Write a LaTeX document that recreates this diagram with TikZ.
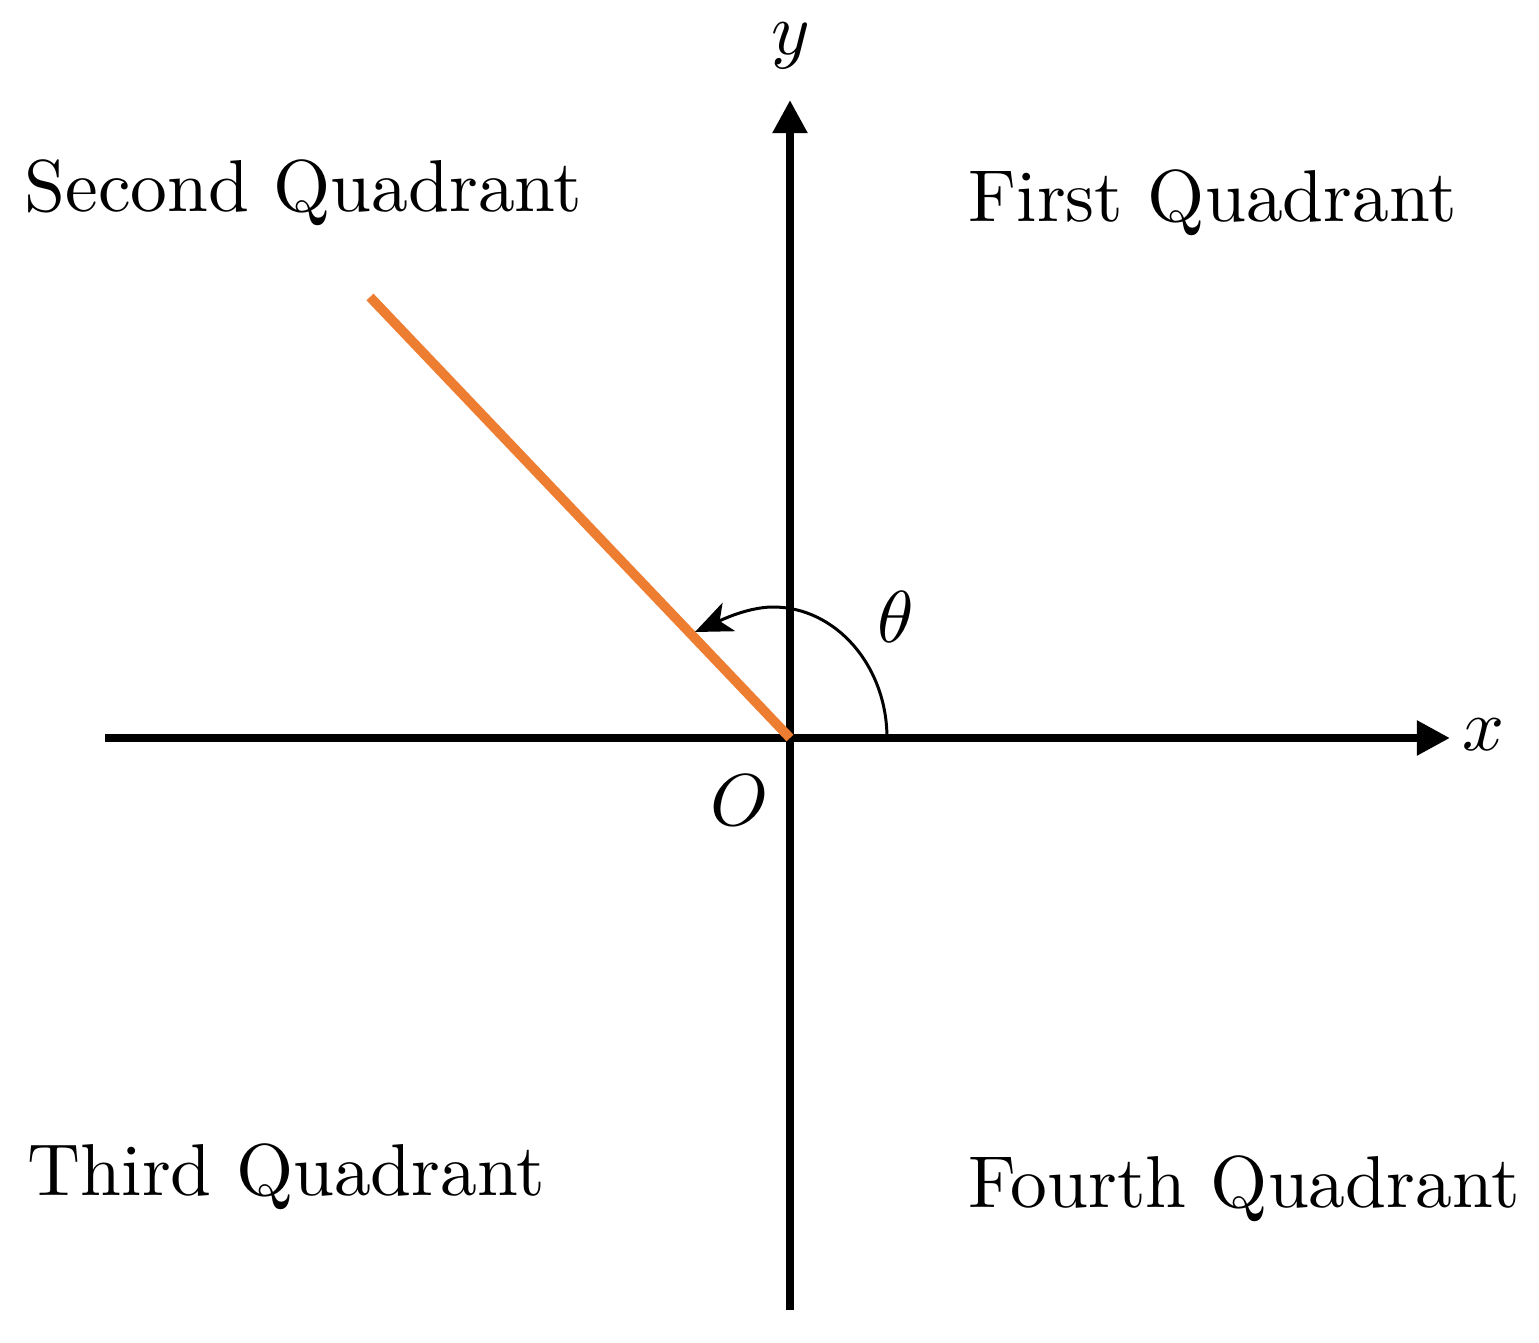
\documentclass[tikz,border=0pt]{standalone}
\usetikzlibrary{arrows.meta}
\definecolor{lineorange}{HTML}{ED7D31}
\newcommand{\bigtxt}[1]{\scalebox{2.09}{#1}}
\begin{document}
\begin{tikzpicture}[x=0.01cm,y=0.01cm,
  axisline/.style={line width=2.28pt,-{Triangle[length=0.33cm,width=0.33cm]}},
  rayline/.style={line width=2.75pt,lineorange},
  anglearc/.style={line width=0.85pt,-{Stealth[length=0.37cm,width=0.31cm,inset=0.1cm]}},
  lbl/.style={font=\fontsize{10}{12}\selectfont,inner sep=0pt},
  quad/.style={lbl,anchor=base west}]
\useasboundingbox (-790,-604) rectangle (749,738);
\coordinate (O) at (0,0);
\coordinate (xs) at (-685,0);
\coordinate (xe) at (660,0);
\coordinate (ys) at (0,-572);
\coordinate (ye) at (0,638);
\coordinate (R) at (-420,441);
\coordinate (a0) at (97,0);
\coordinate (a1) at (-17,131);
\coordinate (a2) at (-95,106);
\draw[axisline] (xs) -- (xe);
\draw[axisline] (ys) -- (ye);
\draw[rayline] (O) -- (R);
\draw[anglearc] (a0) .. controls (97,72) and (46,131) .. (a1)
  .. controls (-45,131) and (-77,114) .. (a2);
\node[lbl] (ylab) at (1,692) {\bigtxt{$y$}};
\node[lbl] (xlab) at (693,3) {\bigtxt{$x$}};
\node[lbl] (th) at (106,121) {\bigtxt{$\theta$}};
\node[lbl] (olab) at (-50,-62) {\bigtxt{$O$}};
\node[quad] (q2) at (-766,526) {\bigtxt{Second Quadrant}};
\node[quad] (q1) at (178,516) {\bigtxt{First Quadrant}};
\node[quad] (q3) at (-763,-457) {\bigtxt{Third Quadrant}};
\node[quad] (q4) at (178,-469) {\bigtxt{Fourth Quadrant}};
\end{tikzpicture}
\end{document}
